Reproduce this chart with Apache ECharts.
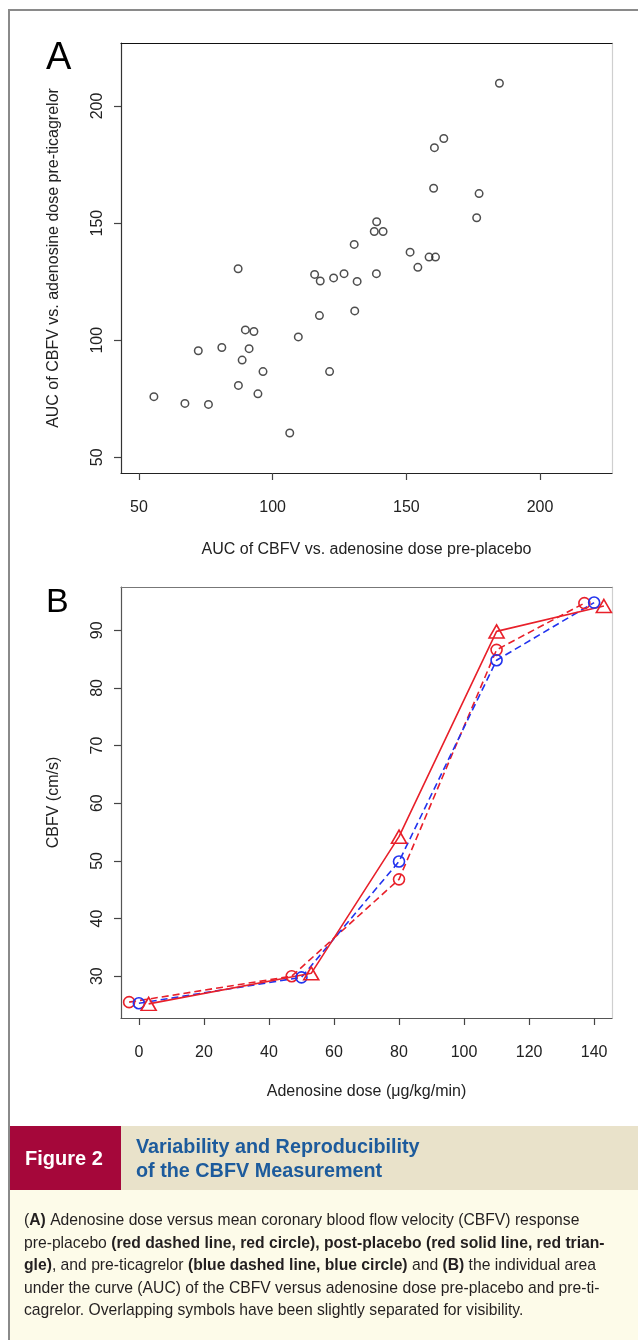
<!DOCTYPE html>
<html><head><meta charset="utf-8">
<script src="https://cdn.jsdelivr.net/npm/echarts@6/dist/echarts.min.js"></script>
<style>html,body{margin:0;padding:0;background:#fff}#c{width:638px;height:1340px}</style>
</head><body><div id="c"></div>
<script>
// ---------- Panel A data (AUC pairs) ----------
const aucPrePlacebo   = [184.8,164.0,160.5,160.2,177.2,176.3,138.9,138.0,141.3,130.5,151.4,158.5,160.9,154.3,87.1,115.7,117.8,122.8,126.7,131.6,138.8,117.5,130.7,89.8,93.0,109.6,72.2,81.0,91.2,88.6,96.4,121.3,87.2,94.5,55.6,67.2,76.0,106.4];
const aucPreTicagrelor= [209.7,186.1,182.2,164.9,162.6,152.3,150.6,146.4,146.4,140.9,137.6,135.5,135.5,131.1,130.5,128.1,125.3,126.6,128.4,125.1,128.4,110.5,112.5,104.4,103.7,101.4,95.5,96.9,96.4,91.5,86.6,86.6,80.7,77.1,75.9,73.0,72.6,60.4];
const aucTicks = [50,100,150,200];

// ---------- Panel B data ----------
const dosePrePlacebo   = [-3, 47, 80, 110, 137];
const cbfvPrePlacebo   = [25.5, 30.0, 46.8, 86.6, 94.7];
const dosePostPlacebo  = [3, 53, 80, 110, 143];
const cbfvPostPlacebo  = [25.2, 30.5, 54.2, 89.8, 94.2];
const dosePreTicagrelor= [0, 50, 80, 110, 140];
const cbfvPreTicagrelor= [25.3, 29.8, 49.9, 84.8, 94.8];
const doseTicks = [0,20,40,60,80,100,120,140];
const cbfvTicks = [30,40,50,60,70,80,90];

const zip = (a,b)=>a.map((v,i)=>[v,b[i]]);
const FONT = "'Liberation Sans', Arial, Helvetica, sans-serif";
const RED = '#e8202a', BLUE = '#2233ee';

function mainX(grid,min,max,ticks,name,gap,color){
  return {gridIndex:grid,type:'value',min:min,max:max,position:'bottom',
    axisLine:{show:true,onZero:false,lineStyle:{color:color,width:1.2}},
    axisTick:{show:true,customValues:ticks,length:7,lineStyle:{color:'#444',width:1.2}},
    axisLabel:{customValues:ticks,margin:27,fontSize:16,color:'#222',fontFamily:FONT},
    splitLine:{show:false},
    name:name,nameLocation:'middle',nameGap:gap,
    nameTextStyle:{fontSize:16,color:'#222',fontFamily:FONT}};
}
function mainY(grid,min,max,ticks,name,gap,color){
  return {gridIndex:grid,type:'value',min:min,max:max,position:'left',
    axisLine:{show:true,onZero:false,lineStyle:{color:color,width:1.2}},
    axisTick:{show:true,customValues:ticks,length:7,lineStyle:{color:'#444',width:1.2}},
    axisLabel:{customValues:ticks,margin:15,rotate:90,fontSize:16,color:'#222',fontFamily:FONT},
    splitLine:{show:false},
    name:name,nameLocation:'middle',nameGap:gap,nameRotate:90,
    nameTextStyle:{fontSize:16,color:'#222',fontFamily:FONT}};
}
function frameAxis(grid,min,max,pos,color){
  return {gridIndex:grid,type:'value',min:min,max:max,position:pos,
    axisLine:{show:true,onZero:false,lineStyle:{color:color,width:1.2}},
    axisTick:{show:false},axisLabel:{show:false},splitLine:{show:false}};
}
const CAP = 15.7;
function capLine(y,parts){
  let t = parts.map(p=>'{'+(p[0]?'b':'n')+'|'+p[1]+'}').join('');
  return {type:'text',x:24,y:y,style:{text:t,textVerticalAlign:'middle',
    rich:{n:{fontSize:CAP,fontFamily:FONT,fill:'#231f20'},
          b:{fontSize:CAP,fontFamily:FONT,fontWeight:'bold',fill:'#231f20'}}}};
}

const chart = echarts.init(document.getElementById('c'),null,{renderer:'canvas'});
chart.setOption({
  animation:false,
  backgroundColor:'#ffffff',
  grid:[
    {left:121,top:43,width:491,height:430},
    {left:121,top:587,width:491,height:431}
  ],
  xAxis:[
    mainX(0,43.3,226.9,aucTicks,'AUC of CBFV vs. adenosine dose pre-placebo',69,'#222'),
    frameAxis(0,43.3,226.9,'top','#111'),
    mainX(1,-5.5,145.5,doseTicks,'Adenosine dose (\u03bcg/kg/min)',66,'#555'),
    frameAxis(1,-5.5,145.5,'top','#777')
  ],
  yAxis:[
    mainY(0,43.3,226.9,aucTicks,'AUC of CBFV vs. adenosine dose pre-ticagrelor',59,'#333'),
    frameAxis(0,43.3,226.9,'right','#cfcfcf'),
    mainY(1,22.75,97.5,cbfvTicks,'CBFV (cm/s)',59,'#555'),
    frameAxis(1,22.75,97.5,'right','#cfcfcf')
  ],
  series:[
    {type:'scatter',xAxisIndex:0,yAxisIndex:0,data:zip(aucPrePlacebo,aucPreTicagrelor),
     symbol:'circle',symbolSize:7.5,
     itemStyle:{color:'rgba(0,0,0,0)',borderColor:'#222',borderWidth:1.5}},
    {type:'line',name:'pre-placebo',xAxisIndex:2,yAxisIndex:2,data:zip(dosePrePlacebo,cbfvPrePlacebo),
     symbol:'circle',symbolSize:11,
     lineStyle:{color:RED,width:1.6,type:[7,4]},
     itemStyle:{color:'rgba(0,0,0,0)',borderColor:RED,borderWidth:1.6}},
    {type:'line',name:'pre-ticagrelor',xAxisIndex:2,yAxisIndex:2,data:zip(dosePreTicagrelor,cbfvPreTicagrelor),
     symbol:'circle',symbolSize:11,
     lineStyle:{color:BLUE,width:1.6,type:[7,4]},
     itemStyle:{color:'rgba(0,0,0,0)',borderColor:BLUE,borderWidth:1.6}},
    {type:'line',name:'post-placebo',xAxisIndex:2,yAxisIndex:2,data:zip(dosePostPlacebo,cbfvPostPlacebo),
     symbol:'triangle',symbolSize:[15,13],
     lineStyle:{color:RED,width:1.6,type:'solid'},
     itemStyle:{color:'rgba(0,0,0,0)',borderColor:RED,borderWidth:1.6}}
  ],
  graphic:[
    {type:'polyline',shape:{points:[[9,1340],[9,10],[638,10]]},style:{stroke:'#8a8a8a',lineWidth:2,fill:null},silent:true},
    {type:'text',x:46,y:59,style:{text:'A',fontSize:38,fontFamily:FONT,fill:'#000',textVerticalAlign:'middle'}},
    {type:'text',x:46,y:603,style:{text:'B',fontSize:34,fontFamily:FONT,fill:'#000',textVerticalAlign:'middle'}},
    {type:'rect',shape:{x:10,y:1126,width:111,height:64},style:{fill:'#a5073a'}},
    {type:'rect',shape:{x:121,y:1126,width:517,height:64},style:{fill:'#e9e2ca'}},
    {type:'rect',shape:{x:10,y:1190,width:628,height:150},style:{fill:'#fdfbe9'}},
    {type:'text',x:25,y:1159,style:{text:'Figure 2',fontSize:20,fontWeight:'bold',fontFamily:FONT,fill:'#fff',textVerticalAlign:'middle'}},
    {type:'text',x:136,y:1148,style:{text:'Variability and Reproducibility',fontSize:19.8,fontWeight:'bold',fontFamily:FONT,fill:'#1d5b9c',textVerticalAlign:'middle'}},
    {type:'text',x:136,y:1172,style:{text:'of the CBFV Measurement',fontSize:19.8,fontWeight:'bold',fontFamily:FONT,fill:'#1d5b9c',textVerticalAlign:'middle'}},
    capLine(1221,[[0,'('],[1,'A)'],[0,' Adenosine dose versus mean coronary blood flow velocity (CBFV) response']]),
    capLine(1244,[[0,'pre-placebo '],[1,'(red dashed line, red circle), post-placebo (red solid line, red trian-']]),
    capLine(1266,[[1,'gle)'],[0,', and pre-ticagrelor '],[1,'(blue dashed line, blue circle)'],[0,' and '],[1,'(B)'],[0,' the individual area']]),
    capLine(1289,[[0,'under the curve (AUC) of the CBFV versus adenosine dose pre-placebo and pre-ti-']]),
    capLine(1311,[[0,'cagrelor. Overlapping symbols have been slightly separated for visibility.']])
  ]
});
</script></body></html>
